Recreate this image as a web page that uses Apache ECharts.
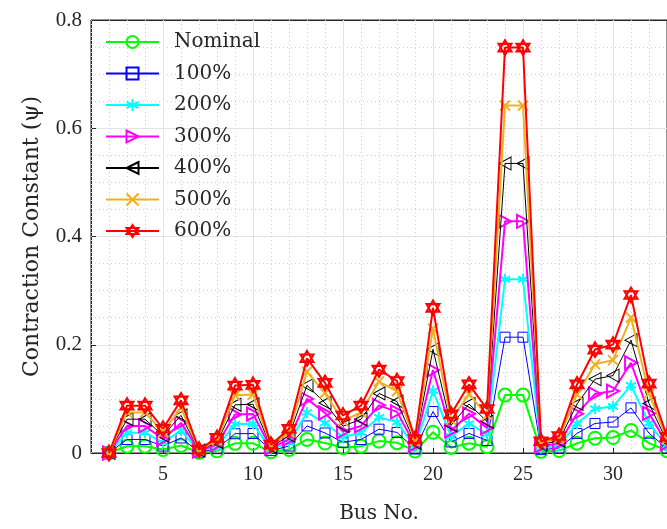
<!DOCTYPE html>
<html>
<head>
<meta charset="utf-8">
<script src="https://cdn.jsdelivr.net/npm/echarts@6/dist/echarts.min.js"></script>
<style>
html,body{margin:0;padding:0;background:#fff;}
#chart{width:667px;height:529px;}
</style>
</head>
<body>
<div id="chart"></div>
<script>
// ---- data ----
const axisCategories = ['1','2','3','4','5','6','7','8','9','10','11','12','13','14','15','16','17','18','19','20','21','22','23','24','25','26','27','28','29','30','31','32','33'];
const busNo = ['2','3','4','5','6','7','8','9','10','11','12','13','14','15','16','17','18','19','20','21','22','23','24','25','26','27','28','29','30','31','32','33'];
const seriesNames = ['Nominal','100%','200%','300%','400%','500%','600%'];
const nominal = [0, 0.0125, 0.0125, 0.0064, 0.0139, 0.0009, 0.004, 0.0178, 0.018, 0.0022, 0.0064, 0.025, 0.0185, 0.0099, 0.0125, 0.022, 0.019, 0.0037, 0.0383, 0.0102, 0.0181, 0.0116, 0.107, 0.107, 0.0031, 0.0045, 0.0181, 0.0273, 0.0286, 0.0417, 0.0183, 0.0043];
const load100 = [0, 0.025, 0.025, 0.0128, 0.0278, 0.0018, 0.008, 0.0356, 0.036, 0.0044, 0.0128, 0.05, 0.037, 0.0198, 0.025, 0.044, 0.038, 0.0074, 0.0766, 0.0204, 0.0362, 0.0232, 0.214, 0.214, 0.0062, 0.009, 0.0362, 0.0546, 0.0572, 0.0834, 0.0366, 0.0086];
const load200 = [0, 0.0375, 0.0375, 0.0192, 0.0417, 0.0027, 0.012, 0.0534, 0.054, 0.0066, 0.0192, 0.075, 0.0555, 0.0297, 0.0375, 0.066, 0.057, 0.0111, 0.1149, 0.0306, 0.0543, 0.0348, 0.321, 0.321, 0.0093, 0.0135, 0.0543, 0.0819, 0.0858, 0.1251, 0.0549, 0.0129];
const load300 = [0, 0.05, 0.05, 0.0256, 0.0556, 0.0036, 0.016, 0.0712, 0.072, 0.0088, 0.0256, 0.1, 0.074, 0.0396, 0.05, 0.088, 0.076, 0.0148, 0.1532, 0.0408, 0.0724, 0.0464, 0.428, 0.428, 0.0124, 0.018, 0.0724, 0.1092, 0.1144, 0.1668, 0.0732, 0.0172];
const load400 = [0, 0.0625, 0.0625, 0.032, 0.0695, 0.0045, 0.02, 0.089, 0.09, 0.011, 0.032, 0.125, 0.0925, 0.0495, 0.0625, 0.11, 0.095, 0.0185, 0.1915, 0.051, 0.0905, 0.058, 0.535, 0.535, 0.0155, 0.0225, 0.0905, 0.1365, 0.143, 0.2085, 0.0915, 0.0215];
const load500 = [0, 0.075, 0.075, 0.0384, 0.0834, 0.0054, 0.024, 0.1068, 0.108, 0.0132, 0.0384, 0.15, 0.111, 0.0594, 0.075, 0.132, 0.114, 0.0222, 0.2298, 0.0612, 0.1086, 0.0696, 0.642, 0.642, 0.0186, 0.027, 0.1086, 0.1638, 0.1716, 0.2502, 0.1098, 0.0258];
const load600 = [0, 0.0875, 0.0875, 0.0448, 0.0973, 0.0063, 0.028, 0.1246, 0.126, 0.0154, 0.0448, 0.175, 0.1295, 0.0693, 0.0875, 0.154, 0.133, 0.0259, 0.2681, 0.0714, 0.1267, 0.0812, 0.749, 0.749, 0.0217, 0.0315, 0.1267, 0.1911, 0.2002, 0.2919, 0.1281, 0.0301];
const yTickLabels = ['0','0.2','0.4','0.6','0.8'];
const xTickLabels = ['5','10','15','20','25','30'];

// ---- styles ----
const allValues = [nominal, load100, load200, load300, load400, load500, load600];
const styles = [
  {color:'#00ff00', lw:2, bw:2, symbol:'circle', size:13},
  {color:'#0000ff', lw:1, bw:1, symbol:'rect', size:10},
  {color:'#00ffff', lw:2, bw:2, symbol:'path://M0,-10L0,10M-8.66,-5L8.66,5M-8.66,5L8.66,-5', size:[10,11]},
  {color:'#ff00ff', lw:2, bw:2, symbol:'path://M-6,-7L7,0L-6,7Z', size:[12,13]},
  {color:'#000000', lw:1, bw:1, symbol:'path://M6,-7L-7,0L6,7Z', size:[12,13]},
  {color:'#edb120', lw:2, bw:2, symbol:'path://M-7,-7L7,7M-7,7L7,-7', size:[10,10]},
  {color:'#ff0000', lw:2, bw:2, symbol:'path://M0,-10L8.66,5L-8.66,5Z M0,10L8.66,-5L-8.66,-5Z', size:[13,15]}
];

const FONT = 'DejaVu Serif';
const TICKFONT = 'Liberation Serif';
const txt = '#262626';
const isMajor = (idx, val) => xTickLabels.indexOf(String(val)) >= 0;

const series = seriesNames.map((name, k) => ({
  name: name,
  type: 'line',
  data: busNo.map((b, i) => [b, allValues[k][i]]),
  color: styles[k].color,
  symbol: styles[k].symbol,
  symbolSize: styles[k].size,
  showAllSymbol: true,
  lineStyle: {color: styles[k].color, width: styles[k].lw},
  itemStyle: {color: 'rgba(255,255,255,0)', borderColor: styles[k].color, borderWidth: styles[k].bw},
  emphasis: {disabled: true},
  clip: false,
  z: 3 + k
}));

const chart = echarts.init(document.getElementById('chart'), null, {renderer: 'canvas'});
chart.setOption({
  animation: false,
  backgroundColor: '#fff',
  grid: {left: 91, top: 20, right: -4, bottom: 73, show: true, borderColor: '#262626', borderWidth: 1, backgroundColor: 'transparent'},
  legend: {
    orient: 'vertical', left: 105, top: 31, padding: 0,
    itemWidth: 53, itemHeight: 15, itemGap: 9.5,
    textStyle: {fontFamily: FONT, fontSize: 20, color: txt, lineHeight: 22, padding: [0,0,0,10]},
    data: seriesNames
  },
  xAxis: [
    {
      type: 'category', data: axisCategories, boundaryGap: false, position: 'bottom',
      name: 'Bus No.', nameLocation: 'middle', nameGap: 51,
      nameTextStyle: {fontFamily: FONT, fontSize: 20, color: txt},
      axisLine: {lineStyle: {color: '#262626', width: 1}},
      axisTick: {inside: true, length: 5, interval: isMajor, lineStyle: {color: '#262626'}},
      axisLabel: {interval: isMajor, fontFamily: TICKFONT, fontSize: 20, color: txt, margin: 12},
      splitLine: {show: true, interval: isMajor, lineStyle: {color: '#e3e3e3', width: 1}},
      z: 2
    },
    {
      type: 'category', data: axisCategories, boundaryGap: false, position: 'bottom',
      axisLine: {show: false}, axisTick: {show: false}, axisLabel: {show: false},
      splitLine: {show: true, interval: (idx, val) => !isMajor(idx, val), lineStyle: {color: '#cfcfcf', width: 1, type: [1, 3]}},
      z: 1
    },
    {
      type: 'category', data: axisCategories, boundaryGap: false, position: 'top',
      axisLine: {show: true, lineStyle: {color: '#262626'}},
      axisTick: {inside: true, length: 5, interval: isMajor, lineStyle: {color: '#262626'}},
      axisLabel: {show: false}, splitLine: {show: false}
    }
  ],
  yAxis: {
    type: 'value', min: 0, max: 0.8, interval: 0.2,
    name: 'Contraction Constant (\u03c8)', nameLocation: 'middle', nameGap: 48,
    nameTextStyle: {fontFamily: FONT, fontSize: 22, color: txt},
    axisLine: {show: true, lineStyle: {color: '#262626', width: 1}},
    axisTick: {show: true, inside: true, length: 5, lineStyle: {color: '#262626'}},
    axisLabel: {fontFamily: TICKFONT, fontSize: 21, color: txt, margin: 9,
      formatter: (v) => yTickLabels[Math.round(v / 0.2)]},
    splitLine: {show: true, lineStyle: {color: '#e3e3e3', width: 1}},
    minorTick: {show: false, splitNumber: 4},
    minorSplitLine: {show: true, lineStyle: {color: '#cfcfcf', width: 1, type: [1, 3]}}
  },
  series: series
});
</script>
</body>
</html>
